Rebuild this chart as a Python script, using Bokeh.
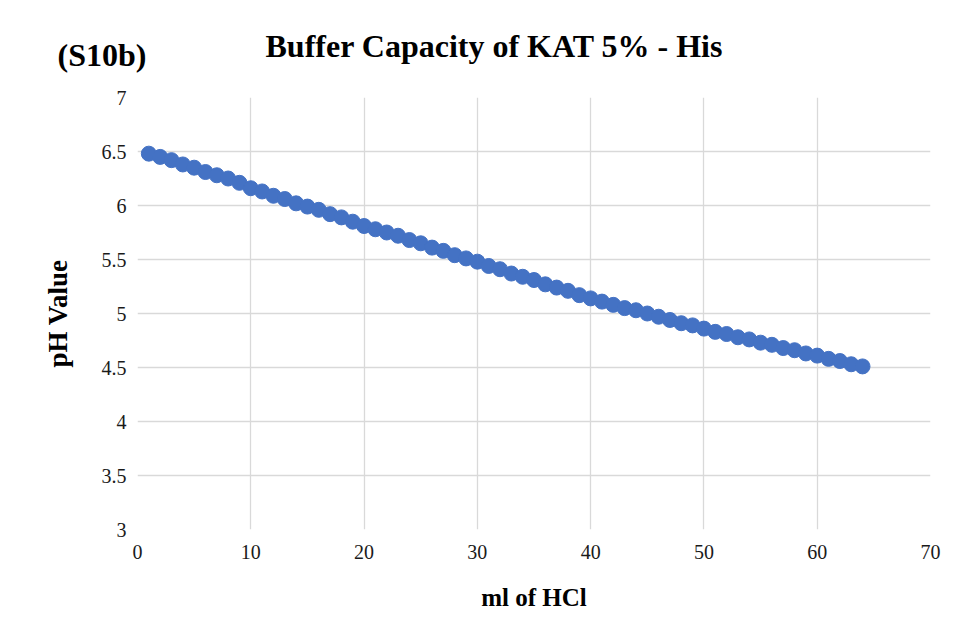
from bokeh.plotting import figure
from bokeh.models import Range1d, FixedTicker, Title
from bokeh.embed import file_html
from bokeh.resources import INLINE

ml_hcl = list(range(1, 65))
ph_value = [
    6.48, 6.45, 6.42, 6.38, 6.35, 6.31, 6.28, 6.25, 6.21, 6.16,
    6.13, 6.09, 6.06, 6.02, 5.99, 5.96, 5.92, 5.89, 5.85, 5.81,
    5.78, 5.75, 5.72, 5.68, 5.65, 5.61, 5.58, 5.54, 5.51, 5.48,
    5.44, 5.41, 5.37, 5.34, 5.31, 5.27, 5.24, 5.21, 5.17, 5.14,
    5.11, 5.08, 5.05, 5.03, 5.00, 4.97, 4.94, 4.91, 4.89, 4.86,
    4.83, 4.81, 4.78, 4.76, 4.73, 4.71, 4.68, 4.66, 4.63, 4.61,
    4.58, 4.56, 4.53, 4.51,
]
x_ticks = [0, 10, 20, 30, 40, 50, 60, 70]
y_ticks = [3, 3.5, 4, 4.5, 5, 5.5, 6, 6.5, 7]

FONT = "Liberation Serif"

p = figure(width=941, height=613, output_backend="svg", toolbar_location=None,
           x_range=Range1d(0, 70), y_range=Range1d(3, 7),
           min_border_left=137, min_border_right=11,
           min_border_top=97, min_border_bottom=83)
p.outline_line_color = None
p.background_fill_color = "white"
p.border_fill_color = "white"

p.add_layout(Title(text="(S10b)", text_font=FONT, text_font_style="bold",
                   text_font_size="32px", text_color="black",
                   align="left", offset=-80, standoff=50), "above")

p.title.text = "Buffer Capacity of KAT 5% - His"
p.title.text_font = FONT
p.title.text_font_style = "bold"
p.title.text_font_size = "32px"
p.title.text_color = "black"
p.title.align = "left"
p.title.offset = 128
p.title.standoff = -108

p.scatter(ml_hcl, ph_value, size=15, color="#4472C4", line_color="#4472C4")

for ax, ticks in ((p.xaxis, x_ticks), (p.yaxis, y_ticks)):
    ax.ticker = FixedTicker(ticks=ticks)
    ax.axis_line_color = None
    ax.major_tick_line_color = None
    ax.minor_tick_line_color = None
    ax.major_label_text_font = FONT
    ax.major_label_text_font_size = "20px"
    ax.major_label_text_color = "#1a1a1a"
    ax.axis_label_text_font = FONT
    ax.axis_label_text_font_style = "bold"
    ax.axis_label_text_color = "black"

p.xaxis.axis_label = "ml of HCl"
p.yaxis.axis_label = "pH Value"
p.xaxis.axis_label_text_font_size = "25px"
p.yaxis.axis_label_text_font_size = "27px"
p.xaxis.major_label_standoff = 9
p.xaxis.axis_label_standoff = 22
p.yaxis.major_label_standoff = 5
p.yaxis.axis_label_standoff = 26

p.xgrid.ticker = FixedTicker(ticks=x_ticks)
p.ygrid.ticker = FixedTicker(ticks=y_ticks)
p.grid.grid_line_color = "#d9d9d9"
p.grid.grid_line_width = 1.3

open("out.html", "w").write(file_html(p, INLINE))
